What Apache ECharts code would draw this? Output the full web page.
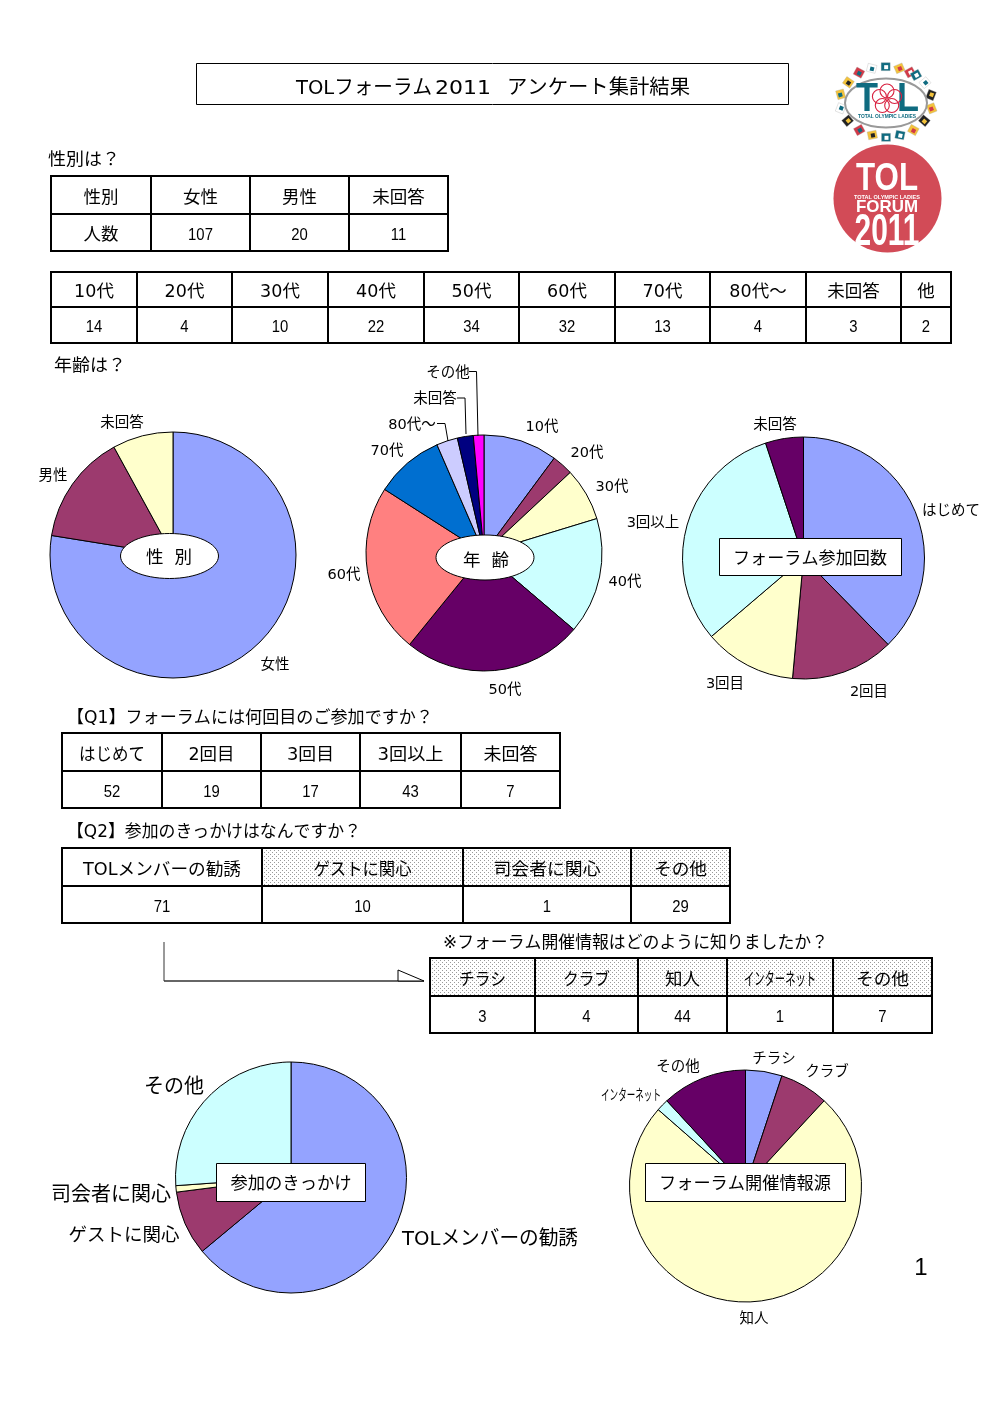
<!DOCTYPE html>
<html><head><meta charset="utf-8">
<style>html,body{margin:0;padding:0;background:#fff}#c{width:994px;height:1403px}</style>
<script src="https://cdn.jsdelivr.net/npm/echarts@6/dist/echarts.min.js"></script>
</head><body><div id="c"></div>
<script>
// ---------- data ----------
const genderCats = ['女性','男性','未回答'];
const genderVals = [107,20,11];
const ageCats = ['10代','20代','30代','40代','50代','60代','70代','80代～','未回答','他'];
const agePieCats = ['10代','20代','30代','40代','50代','60代','70代','80代～','未回答','その他'];
const ageVals = [14,4,10,22,34,32,13,4,3,2];
const q1Cats = ['はじめて','2回目','3回目','3回以上','未回答'];
const q1Vals = [52,19,17,43,7];
const q2Cats = ['TOLメンバーの勧誘','ゲストに関心','司会者に関心','その他'];
const q2Vals = [71,10,1,29];
const infoCats = ['チラシ','クラブ','知人','インターネット','その他'];
const infoVals = [3,4,44,1,7];
const palette = ['#94A3FF','#9C3A6E','#FFFFCC','#CCFFFF','#660066','#FF8080','#006FD0','#CCCCFF','#000080','#FF00FF'];

// ---------- layout (separate from data) ----------
const WIDE = '"DejaVu Sans","Noto Sans CJK JP",sans-serif';
const NARROW = '"Liberation Sans","Noto Sans CJK JP",sans-serif';
const DY = 0.13;
const pies = [
 {c:[173,555],r:123,cats:genderCats,vals:genderVals,size:14.5,pos:[[275,664],[53,475],[122,422]]},
 {c:[484,553],r:118,cats:agePieCats,vals:ageVals,size:14.5,pos:[[542,426],[587,452],[612,486],[625,581],[505,689],[344,574],[387,450],[412,424],[435,398],[448,372]]},
 {c:[803.5,558],r:121,cats:q1Cats,vals:q1Vals,size:14.5,pos:[[951,510],[869,691],[725,683],[653,522],[775,424]]},
 {c:[291,1177.5],r:115.5,cats:q2Cats,vals:q2Vals,size:20,pos:[[490,1238],[124,1235],[111,1194],[174,1086]],sizes:[20,18.5,20,20],drawn:{0:176}},
 {c:[745.5,1186],r:116,cats:infoCats,vals:infoVals,size:14.5,pos:[[774,1058],[827,1071],[754,1318],[631,1095],[678,1066]],drawn:{3:60}}
];
const measureCtx = document.createElement('canvas').getContext('2d');
function txt(s,x,y,size,opt){
  opt = opt||{};
  const fam = opt.family||WIDE, weight = opt.weight||'normal', align = opt.align||'center';
  let sx = opt.sx||1;
  if(opt.w){ measureCtx.font = weight+' '+size+'px '+fam; sx = opt.w/measureCtx.measureText(s).width; }
  const dy = opt.noShift?0:size*DY;
  return {type:'text',x:x,y:y+dy,scaleX:sx,z:opt.z||50,silent:true,
    style:{text:s,fontSize:size,fontFamily:fam,fontWeight:weight,fill:opt.fill||'#000',align:align,verticalAlign:'middle'}};
}
function line(pts,color,lw,z){return {type:'polyline',z:z||50,silent:true,shape:{points:pts},style:{stroke:color||'#000',lineWidth:lw||1,fill:null}};}

const dot = document.createElement('canvas'); dot.width=dot.height=4;
(function(){const g=dot.getContext('2d');g.fillStyle='#fff';g.fillRect(0,0,4,4);g.fillStyle='#9a9a9a';g.fillRect(0,0,1,1);g.fillRect(2,2,1,1);})();

const els = [];
function table(xs,ys,head,vals,opt){
  opt=opt||{};
  const n=xs.length-1;
  (opt.shade||[]).forEach(i=>els.push({type:'rect',z:10,silent:true,shape:{x:xs[i],y:ys[0],width:xs[i+1]-xs[i],height:ys[1]-ys[0]},style:{fill:{image:dot,repeat:'repeat'}}}));
  xs.forEach(x=>els.push(line([[x,ys[0]-1],[x,ys[2]+1]],'#000',2,20)));
  ys.forEach(y=>els.push(line([[xs[0]-1,y],[xs[n]+1,y]],'#000',2,20)));
  for(let i=0;i<n;i++){
    const cx=(xs[i]+xs[i+1])/2;
    const isFirst = opt.rowHead && i===0;
    els.push(txt(String(head[i]),cx,(ys[0]+ys[1])/2+1,opt.size||17.5,{w:opt.w&&opt.w[i]}));
    els.push(isFirst ? txt(String(vals[i]),cx,(ys[1]+ys[2])/2+1,17.5,{})
      : txt(String(vals[i]),cx,(ys[1]+ys[2])/2+2.5,16.5,{family:NARROW,sx:0.9,noShift:true}));
  }
}
// title
els.push({type:'rect',z:5,silent:true,shape:{x:196.5,y:63.5,width:592,height:41},style:{fill:'#fff',stroke:'#000',lineWidth:1}});
els.push(txt('TOLフォーラム',296,86,20,{align:'left',w:136}));
els.push(txt('2011',435,86,20,{align:'left',w:56}));
els.push(txt('アンケート集計結果',507,86,20,{align:'left',w:183}));
// section texts
els.push(txt('性別は？',48,158,17.5,{align:'left',w:72}));
els.push(txt('年齢は？',54,364,17.5,{align:'left',w:72}));
els.push(txt('【Q1】フォーラムには何回目のご参加ですか？',67,716,17.5,{align:'left',w:366}));
els.push(txt('【Q2】参加のきっかけはなんですか？',67,830,17.5,{align:'left',w:294}));
els.push(txt('※フォーラム開催情報はどのように知りましたか？',443,941,17.5,{align:'left',w:385}));
// tables
table([51,151,250,349,448],[176,214,251],['性別'].concat(genderCats),['人数'].concat(genderVals),{rowHead:true});
table([51,137,232,328,424,519,615,710,806,901,951],[272,307,343],ageCats,ageVals,{size:17.5});
table([62,162,261,360,461,560],[733,771,808],q1Cats,q1Vals,{w:[66,46,47,66,54]});
table([62,262,463,631,730],[848,886,923],q2Cats,q2Vals,{shade:[1,2,3],w:[158,98,107,53]});
table([430,535,638,727,833,932],[958,996,1033],infoCats,infoVals,{shade:[0,1,2,3,4],w:[47,47,35,72,53]});
// arrow
els.push(line([[164,942],[164,981]],'#777',1.5));
els.push(line([[164,981],[424,981]],'#333',1.5));
els.push({type:'polygon',z:51,silent:true,shape:{points:[[398,970],[398,981],[424,981]]},style:{fill:'#fff',stroke:'#000',lineWidth:1}});
// leaders on age pie
els.push(line([[469,371.5],[476.5,371.5],[478,436]],'#000',1,60));
els.push(line([[457,398],[465,398],[466,434]],'#000',1,60));
els.push(line([[437,423.5],[445,423.5],[448,441]],'#000',1,60));
// overlays
[[169.5,556],[485,557.5]].forEach(c=>els.push({type:'ellipse',z:70,silent:true,shape:{cx:c[0],cy:c[1],rx:49,ry:22.5},style:{fill:'#fff',stroke:'#000',lineWidth:1}}));
els.push(txt('性  別',169,556,17.5,{z:71}));
els.push(txt('年  齢',486,559,17.5,{z:71}));
[[719.5,538.5,182,37],[216.5,1163.5,149,38],[645.5,1163.5,200,38]].forEach(b=>els.push({type:'rect',z:70,silent:true,shape:{x:b[0],y:b[1],width:b[2],height:b[3]},style:{fill:'#fff',stroke:'#000',lineWidth:1}}));
els.push(txt('フォーラム参加回数',810,557.5,17.5,{z:71,w:154}));
els.push(txt('参加のきっかけ',291,1182.5,17.5,{z:71,w:121}));
els.push(txt('フォーラム開催情報源',745,1182.5,17.5,{z:71,w:172}));
// page number
els.push(txt('1',921,1268,24,{family:NARROW,noShift:true}));
// labels that need condensing
pies.forEach(p=>{ if(p.drawn) Object.keys(p.drawn).forEach(i=>{
  els.push(txt(p.cats[i],p.pos[i][0],p.pos[i][1]-1,p.sizes?p.sizes[i]:p.size,{w:p.drawn[i]}));
});});

// logo: flag ring
const TEAL='#0F6B80',RED='#D23A48',YEL='#F3C33C',BLK='#222',WHT='#fff';
const flags=[[85,97,YEL,BLK,-.6],[117,68,RED,TEAL,-.5],[155,55,WHT,TEAL,-.25],[197,50,TEAL,WHT,0],[238,55,YEL,RED,.4],[270,67,RED,WHT,.5],[288,75,TEAL,WHT,.5],[315,98,WHT,TEAL,.7],[333,135,BLK,YEL,1.2],[335,175,YEL,RED,-1.2],[313,212,BLK,YEL,-.7],[280,240,YEL,RED,-.5],[240,255,TEAL,WHT,-.2],[198,262,TEAL,WHT,0],[157,255,YEL,BLK,.2],[118,240,RED,TEAL,.5],[83,212,BLK,YEL,.7],[62,175,WHT,TEAL,1.2],[62,133,YEL,TEAL,-1.3]];
flags.forEach(f=>{
  const x=820+f[0]/3,y=50+f[1]/3;
  els.push({type:'group',x:x,y:y,rotation:f[4],z:30,silent:true,children:[
    {type:'rect',shape:{x:-4.5,y:-4,width:9,height:8},style:{fill:f[2],stroke:'#aaa',lineWidth:.3}},
    {type:'rect',shape:{x:-1.5,y:-1.5,width:4,height:4},style:{fill:f[3]}}
  ]});
});
els.push({type:'ellipse',z:30,silent:true,shape:{cx:886,cy:103,rx:41,ry:24.5},style:{fill:'#fff',stroke:'#999',lineWidth:2}});
els.push(txt('T',867,100,40,{z:31,family:NARROW,weight:'bold',fill:TEAL,noShift:true,sx:.9}));
els.push(txt('L',908,100,40,{z:31,family:NARROW,weight:'bold',fill:TEAL,noShift:true,sx:.9}));
[[0,-8],[7.6,-2.5],[4.7,6.5],[-4.7,6.5],[-7.6,-2.5]].forEach(o=>els.push({type:'circle',z:32,silent:true,shape:{cx:887+o[0],cy:99+o[1],r:7},style:{fill:null,stroke:'#D8203F',lineWidth:1.1}}));
els.push(txt('TOTAL OLYMPIC LADIES',887,117,5,{z:31,family:NARROW,weight:'bold',fill:TEAL,w:58,noShift:true}));
els.push({type:'circle',z:30,silent:true,shape:{cx:887.5,cy:198.5,r:54},style:{fill:'#D24B57'}});
els.push(txt('TOL',887,180,38,{z:31,family:NARROW,fill:'#fff',weight:'bold',w:62,noShift:true}));
els.push(txt('TOTAL OLYMPIC LADIES',887,197,6,{z:31,family:NARROW,fill:'#fff',weight:'bold',w:66,noShift:true}));
els.push(txt('FORUM',887,207.5,17,{z:31,family:NARROW,fill:'#fff',weight:'bold',w:62,noShift:true}));
els.push(txt('2011',887,233,44,{z:31,family:NARROW,fill:'#fff',weight:'bold',w:65,noShift:true}));

// pies
const series = pies.map(p=>({
  type:'pie',silent:true,animation:false,clockwise:true,startAngle:90,
  center:p.c,radius:[0,p.r],avoidLabelOverlap:false,
  itemStyle:{borderColor:'#000',borderWidth:1},
  label:{show:true,position:'outside',fontFamily:WIDE,fontSize:p.size,color:'#000',formatter:'{b}'},
  labelLine:{show:false},
  labelLayout:function(o){const q=p.pos[o.dataIndex];const s=p.sizes?p.sizes[o.dataIndex]:p.size;return {x:q[0],y:q[1]+s*DY-1,align:'center',verticalAlign:'middle'};},
  data:p.cats.map((n,i)=>({name:n,value:p.vals[i],
    itemStyle:{color:palette[i]},
    label:{show:!(p.drawn&&p.drawn[i]),fontSize:p.sizes?p.sizes[i]:p.size}}))
}));

const chart = echarts.init(document.getElementById('c'),null,{renderer:'canvas',width:994,height:1403});
chart.setOption({backgroundColor:'#fff',animation:false,series:series,graphic:{elements:els}});
</script></body></html>
